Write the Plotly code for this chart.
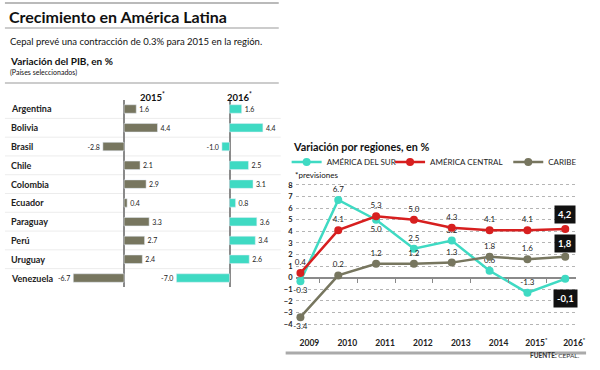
import plotly.graph_objects as go

# ---------------- data ----------------
countries = ["Argentina", "Bolivia", "Brasil", "Chile", "Colombia", "Ecuador",
             "Paraguay", "Perú", "Uruguay", "Venezuela"]
pib_2015 = [1.6, 4.4, -2.8, 2.1, 2.9, 0.4, 3.3, 2.7, 2.4, -6.7]
pib_2016 = [1.6, 4.4, -1.0, 2.5, 3.1, 0.8, 3.6, 3.4, 2.6, -7.0]

years = ["2009", "2010", "2011", "2012", "2013", "2014", "2015*", "2016*"]
year_labels = ["2009", "2010", "2011", "2012", "2013", "2014", "2015<sup>*</sup>", "2016<sup>*</sup>"]
america_sur = [-0.3, 6.7, 5.0, 2.5, 3.2, 0.6, -1.3, -0.1]
america_central = [0.4, 4.1, 5.3, 5.0, 4.3, 4.1, 4.1, 4.2]
caribe = [-3.4, 0.2, 1.2, 1.2, 1.3, 1.8, 1.6, 1.8]

sur_pos = ["bottom center", "top center", "bottom center", "top center", "top center",
           "top center", "top center"]
central_pos = ["top center", "top center", "top center", "top center", "top center",
               "top center", "top center"]
caribe_pos = ["bottom center", "top center", "top center", "top center", "top center",
              "top center", "top center"]

# ---------------- style ----------------
W, H = 600, 370
FONT = "Lato"
OLIVE = "#77765f"
TURQ = "#3fdac3"
RED = "#d71f1f"
DARK = "#222222"


def px(x):
    return x / W


def py(y):
    return 1 - y / H


fig = go.Figure()

# ---- bar charts ----
fig.add_trace(go.Bar(
    x=pib_2015, y=countries, orientation="h", marker_color=OLIVE, width=0.45,
    text=[f"{v:.1f}" for v in pib_2015], textposition="outside",
    textfont=dict(size=7, color=DARK, family=FONT), cliponaxis=False,
    xaxis="x", yaxis="y", showlegend=False, hoverinfo="skip"))
fig.add_trace(go.Bar(
    x=pib_2016, y=countries, orientation="h", marker_color=TURQ, width=0.45,
    text=[f"{v:.1f}" for v in pib_2016], textposition="outside",
    textfont=dict(size=7, color=DARK, family=FONT), cliponaxis=False,
    xaxis="x2", yaxis="y", showlegend=False, hoverinfo="skip"))


# ---- line chart ----
def add_series(name, vals, color, pos, legend):
    fig.add_trace(go.Scatter(
        x=years, y=vals, name=name, mode="lines+markers",
        line=dict(color=color, width=2.5), marker=dict(color=color, size=8),
        xaxis="x3", yaxis="y3", cliponaxis=False, hoverinfo="skip", legend=legend))
    fig.add_trace(go.Scatter(
        x=years[:-1], y=vals[:-1], mode="markers+text", text=[f"{v:.1f}" for v in vals[:-1]],
        marker=dict(size=8, opacity=0),
        textposition=pos, textfont=dict(size=8, color=DARK, family=FONT),
        xaxis="x3", yaxis="y3", cliponaxis=False, hoverinfo="skip", showlegend=False))


add_series("AMÉRICA DEL SUR", america_sur, TURQ, sur_pos, "legend")
add_series("AMÉRICA CENTRAL", america_central, RED, central_pos, "legend2")
add_series("CARIBE", caribe, OLIVE, caribe_pos, "legend3")
# helper trace for zero-line tick marks
fig.add_trace(go.Scatter(x=[0], y=[None], xaxis="x4", yaxis="y3",
                         showlegend=False, hoverinfo="skip", mode="markers"))

# axis geometry
bar_range = [-7.5, 6.0]
bar_scale = 7.7  # px per unit
bw = (bar_range[1] - bar_range[0]) * bar_scale
z15, z16 = 126, 233
d15 = [px(z15 + bar_range[0] * bar_scale), px(z15 + bar_range[0] * bar_scale + bw)]
d16 = [px(z16 + bar_range[0] * bar_scale), px(z16 + bar_range[0] * bar_scale + bw)]
row0, rowstep = 109, 18.78
ydom_bar = [py(row0 + 9.5 * rowstep), py(row0 - 0.5 * rowstep)]

ly_range = [-4.6, 8.4]
ly_scale = 11.6
y_zero = 277.7
ydom_line = [py(y_zero - ly_range[0] * ly_scale), py(y_zero - ly_range[1] * ly_scale)]
lx_range = [-0.13, 7.29]
xdom_line = [px(300), px(585)]
zero_pos = ydom_line[0] + (0 - ly_range[0]) / (ly_range[1] - ly_range[0]) * (ydom_line[1] - ydom_line[0])

common_bar_x = dict(range=bar_range, showgrid=False, showticklabels=False, ticks="",
                    zeroline=True, zerolinecolor="#8a8a8a", zerolinewidth=1.5,
                    showline=False, fixedrange=True)

legend_common = dict(orientation="h", yanchor="middle", xanchor="left",
                     font=dict(size=8, family=FONT, color=DARK), itemwidth=30,
                     bgcolor="rgba(0,0,0,0)", borderwidth=0)

fig.update_layout(
    width=W, height=H, margin=dict(l=0, r=0, t=0, b=0),
    paper_bgcolor="white", plot_bgcolor="rgba(0,0,0,0)",
    font=dict(family=FONT, color=DARK),
    xaxis=dict(domain=d15, anchor="y", **common_bar_x),
    xaxis2=dict(domain=d16, anchor="y", **common_bar_x),
    yaxis=dict(domain=ydom_bar, type="category", categoryorder="array",
               categoryarray=countries, range=[9.5, -0.5], showticklabels=False,
               showgrid=False, zeroline=False, ticks="", anchor="x"),
    xaxis3=dict(domain=xdom_line, anchor="y3", type="category", categoryorder="array",
                categoryarray=years, range=lx_range, showgrid=False, ticks="",
                tickmode="array", tickvals=years, ticktext=year_labels,
                tickfont=dict(size=8.5, family=FONT, color=DARK, weight="bold"),
                ticklabelshift=9, ticklabelstandoff=5, showline=False, zeroline=False),
    xaxis4=dict(domain=xdom_line, anchor="free", position=zero_pos, overlaying="x3",
                range=lx_range, tickmode="array", tickvals=[i + 0.5 for i in range(len(years) - 1)],
                ticks="outside", ticklen=4, tickcolor="#8a8a8a", tickwidth=1.2,
                showticklabels=False, showgrid=False, zeroline=False, showline=False),
    yaxis3=dict(domain=ydom_line, anchor="x3", range=ly_range, dtick=1, tick0=0,
                showgrid=True, gridcolor="#b5b5b5", griddash="dot", gridwidth=1,
                zeroline=True, zerolinecolor="#8a8a8a", zerolinewidth=1.5,
                tickfont=dict(size=7.5, family=FONT, color=DARK, weight="bold"),
                ticks="", ticklabelstandoff=2, showline=False),
    legend=dict(x=px(291), y=py(162), **legend_common),
    legend2=dict(x=px(396), y=py(162), **legend_common),
    legend3=dict(x=px(516), y=py(162), **legend_common),
)

# ---- shapes: rules and separators ----
shapes = [
    dict(type="line", xref="paper", yref="paper", x0=px(5), x1=px(283), y0=py(3), y1=py(3),
         line=dict(color="#777", width=1.2)),
    dict(type="line", xref="paper", yref="paper", x0=px(5), x1=px(283), y0=py(28), y1=py(28),
         line=dict(color="#999", width=1.2)),
    dict(type="line", xref="paper", yref="paper", x0=px(5), x1=px(283), y0=py(83), y1=py(83),
         line=dict(color="#999", width=1.2)),
    dict(type="line", xref="paper", yref="paper", x0=px(290), x1=px(595), y0=py(353), y1=py(353),
         line=dict(color="#aaa", width=3)),
]
for i in range(len(countries) - 1):
    shapes.append(dict(type="line", xref="paper", yref="y", x0=px(5), x1=px(285),
                       y0=i + 0.5, y1=i + 0.5, layer="below",
                       line=dict(color="#ececec", width=1)))
fig.update_layout(shapes=shapes)

# ---- annotations ----
ann = [
    dict(text="<b>Crecimiento en América Latina</b>", x=px(7), y=py(16), size=16),
    dict(text="Cepal prevé una contracción de 0.3% para 2015 en la región.", x=px(8), y=py(42), size=9.5),
    dict(text="<b>Variación del PIB, en %</b>", x=px(8), y=py(61), size=10),
    dict(text="(Países seleccionados)", x=px(8), y=py(72), size=7),
    dict(text="<b>Variación por regiones, en %</b>", x=px(295), y=py(146), size=10.8),
    dict(text="*previsiones", x=px(297), y=py(175), size=8),
]
annotations = []
for a in ann:
    annotations.append(dict(text=a["text"], x=a["x"], y=a["y"], xref="paper", yref="paper",
                            xanchor="left", yanchor="middle", showarrow=False,
                            font=dict(size=a["size"], family=FONT, color="#111")))
annotations += [
    dict(text="<b>2015<sup>*</sup></b>", x=px(140), y=py(96), xref="paper", yref="paper",
         yanchor="middle", showarrow=False, font=dict(size=9.5, family=FONT, color="#111")),
    dict(text="<b>2016<sup>*</sup></b>", x=px(243), y=py(96), xref="paper", yref="paper",
         yanchor="middle", showarrow=False, font=dict(size=9.5, family=FONT, color="#111")),
    dict(text="<b>FUENTE:</b> CEPAL.", x=px(591), y=py(361), xref="paper", yref="paper",
         xanchor="right", showarrow=False, font=dict(size=6.5, family=FONT, color="#333")),
]
for c in countries:
    annotations.append(dict(text=f"<b>{c}</b>", x=px(9), y=c, xref="paper", yref="y",
                            xanchor="left", yanchor="middle", showarrow=False,
                            font=dict(size=9, family=FONT, color="#222")))
# boxed final values
for vals, shift in [(america_central, 14), (caribe, 13), (america_sur, -20)]:
    annotations.append(dict(text=f"<b>{vals[-1]:.1f}</b>".replace(".", ","),
                            x=years[-1], y=vals[-1], xref="x3", yref="y3", yshift=shift,
                            showarrow=False, bgcolor="#111", borderpad=3,
                            font=dict(size=9.5, family=FONT, color="white")))
fig.update_layout(annotations=annotations)

fig.write_html("out.html", config={"displayModeBar": False},
               post_script="document.body.style.margin='0';")
